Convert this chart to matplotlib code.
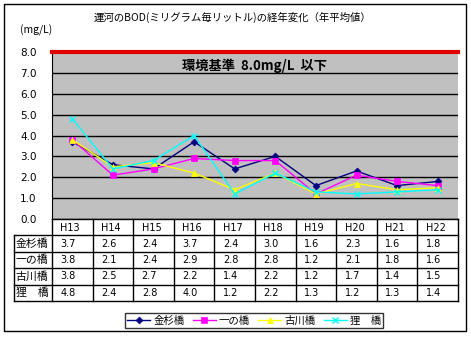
import matplotlib.pyplot as plt
from matplotlib.lines import Line2D
from matplotlib.patches import Rectangle

plt.rcParams['font.family'] = ['Noto Sans CJK JP', 'DejaVu Sans']

years = ['H13', 'H14', 'H15', 'H16', 'H17', 'H18', 'H19', 'H20', 'H21', 'H22']
sites = ['金杉橋', '一の橋', '古川橋', '狸　橋']
kanasugi = [3.7, 2.6, 2.4, 3.7, 2.4, 3.0, 1.6, 2.3, 1.6, 1.8]
ichinohashi = [3.8, 2.1, 2.4, 2.9, 2.8, 2.8, 1.2, 2.1, 1.8, 1.6]
furukawa = [3.8, 2.5, 2.7, 2.2, 1.4, 2.2, 1.2, 1.7, 1.4, 1.5]
tanuki = [4.8, 2.4, 2.8, 4.0, 1.2, 2.2, 1.3, 1.2, 1.3, 1.4]
standard = 8.0

series = [kanasugi, ichinohashi, furukawa, tanuki]
colors = ['#000080', '#FF00FF', '#FFFF00', '#00FFFF']
markers = ['D', 's', '^', 'x']
msizes = [3.5, 4.5, 5, 5]

W, H = 471, 345
fig = plt.figure(figsize=(W / 100, H / 100), dpi=100)


def box(x0, y0, x1, y1):
    # pixel box (top-left origin) -> figure fraction rect
    return [x0 / W, 1 - y1 / H, (x1 - x0) / W, (y1 - y0) / H]


# outer frame
fig.patches.append(Rectangle((4 / W, 1 - 331 / H), 462 / W, 327 / H,
                             transform=fig.transFigure, fill=False,
                             edgecolor='black', linewidth=1))

# main plot
ax = fig.add_axes(box(52, 52, 458, 219))
ax.set_facecolor('#C0C0C0')
x = list(range(len(years)))
for vals, c, m, ms in zip(series, colors, markers, msizes):
    ax.plot(x, vals, color=c, marker=m, markersize=ms, linewidth=1,
            markeredgewidth=1 if m == 'x' else 0.5, zorder=3)
for v in range(0, 8):
    ax.axhline(v, color='black', linewidth=1, zorder=1)
ax.axhline(standard, color='#E00000', linewidth=3, zorder=4, clip_on=False)
ax.set_xlim(-0.5, len(years) - 0.5)
ax.set_ylim(0, 8)
ax.set_yticks(range(0, 9))
ax.set_yticklabels([f'{v:.1f}' for v in range(0, 9)], fontsize=7.5,
                   family='DejaVu Sans')
ax.tick_params(axis='y', length=0, pad=11)
ax.set_xticks([])
for s in ['top', 'right', 'bottom']:
    ax.spines[s].set_visible(False)
ax.spines['left'].set_color('black')
ax.text(0.5, 0.92, f'環境基準  {standard:.1f}mg/L  以下', transform=ax.transAxes,
        ha='center', va='center', fontsize=9.5, fontweight='bold')

fig.text(233 / W, 1 - 17 / H, '運河のBOD(ミリグラム毎リットル)の経年変化（年平均値）',
         ha='center', va='center', fontsize=7.5)
fig.text(20 / W, 1 - 30 / H, '(mg/L)', ha='left', va='center', fontsize=7.5)

# data table under the plot
tax = fig.add_axes(box(14, 219, 458, 301))
lab_w = 38 / 40.6
tax.set_xlim(-0.5 - lab_w, len(years) - 0.5)
tax.set_ylim(len(sites) + 1, 0)
tax.axis('off')
left = -0.5 - lab_w
right = len(years) - 0.5
lk = dict(color='black', linewidth=1, clip_on=False)
# horizontal lines
tax.plot([-0.5, right], [0, 0], **lk)
for r in range(1, len(sites) + 2):
    tax.plot([left, right], [r, r], **lk)
# vertical lines
tax.plot([left, left], [1, len(sites) + 1], **lk)
for i in range(len(years) + 1):
    tax.plot([i - 0.5, i - 0.5], [0, len(sites) + 1], **lk)
for i, yr in enumerate(years):
    tax.text(i - 0.05, 0.55, yr, ha='center', va='center', fontsize=7,
             family='DejaVu Sans')
for r, (name, vals) in enumerate(zip(sites, series), start=1):
    tax.text(left + 0.04, r + 0.5, name, ha='left', va='center', fontsize=7.8)
    for i, v in enumerate(vals):
        tax.text(i - 0.1, r + 0.5, f'{v:.1f}', ha='center', va='center',
                 fontsize=7, family='DejaVu Sans')

handles = [Line2D([], [], color=c, marker=m, markersize=ms, linewidth=1,
                  markeredgewidth=1 if m == 'x' else 0.5)
           for c, m, ms in zip(colors, markers, msizes)]
leg = fig.legend(handles, sites, loc='center', ncol=4,
                 bbox_to_anchor=(254 / W, 1 - 320.5 / H), fontsize=7.5,
                 frameon=True, fancybox=False, handlelength=2.2,
                 handletextpad=0.3, columnspacing=0.8, borderpad=0.2,
                 borderaxespad=0)
leg.get_frame().set_edgecolor('black')
leg.get_frame().set_linewidth(1)

fig.savefig('out.png', dpi=100)
